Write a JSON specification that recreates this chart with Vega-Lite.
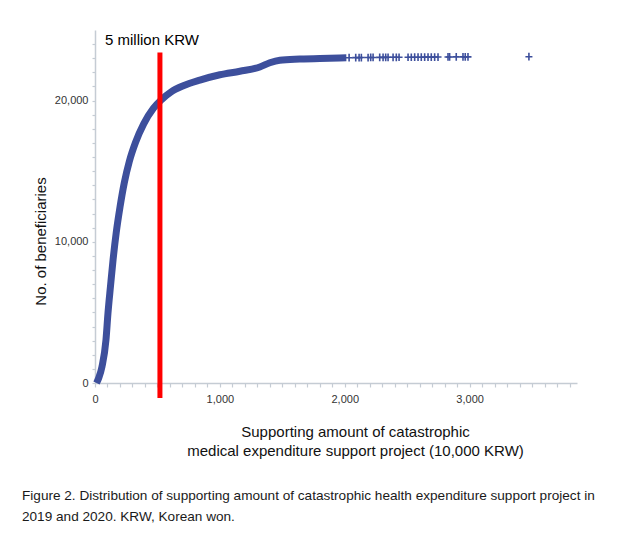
{
  "$schema": "https://vega.github.io/schema/vega-lite/v6.json",
  "width": 482,
  "height": 353,
  "autosize": {"type": "none"},
  "padding": {"left": 95, "top": 30, "right": 44, "bottom": 152},
  "background": "white",
  "config": {
    "view": {"stroke": null},
    "font": "Liberation Sans"
  },
  "title": {
    "text": ["Figure 2. Distribution of supporting amount of catastrophic health expenditure support project in", "2019 and 2020. KRW, Korean won."],
    "orient": "bottom",
    "anchor": "start",
    "frame": "group",
    "offset": 31,
    "dx": -73,
    "font": "Liberation Sans",
    "fontSize": 13.6,
    "fontWeight": "normal",
    "color": "#1a1a1a",
    "lineHeight": 21
  },
  "datasets": {
    "curve": [
      {"amount": 12, "count": 0},
      {"amount": 30, "count": 350},
      {"amount": 56, "count": 1160},
      {"amount": 88, "count": 3060},
      {"amount": 104, "count": 4960},
      {"amount": 124, "count": 6850},
      {"amount": 145, "count": 8750},
      {"amount": 170, "count": 10650},
      {"amount": 200, "count": 12450},
      {"amount": 235, "count": 14200},
      {"amount": 275, "count": 15700},
      {"amount": 325, "count": 17050},
      {"amount": 390, "count": 18350},
      {"amount": 467, "count": 19450},
      {"amount": 530, "count": 20050},
      {"amount": 610, "count": 20620},
      {"amount": 707, "count": 21050},
      {"amount": 840, "count": 21450},
      {"amount": 1000, "count": 21830},
      {"amount": 1160, "count": 22080},
      {"amount": 1320, "count": 22380},
      {"amount": 1400, "count": 22680},
      {"amount": 1480, "count": 22860},
      {"amount": 1640, "count": 22940},
      {"amount": 1800, "count": 22990},
      {"amount": 2013, "count": 23030}
    ],
    "tail": [
      {"amount": 2035, "count": 23040},
      {"amount": 2088, "count": 23045},
      {"amount": 2115, "count": 23045},
      {"amount": 2133, "count": 23050},
      {"amount": 2187, "count": 23050},
      {"amount": 2208, "count": 23055},
      {"amount": 2227, "count": 23055},
      {"amount": 2280, "count": 23060},
      {"amount": 2307, "count": 23060},
      {"amount": 2328, "count": 23060},
      {"amount": 2347, "count": 23065},
      {"amount": 2387, "count": 23065},
      {"amount": 2413, "count": 23065},
      {"amount": 2435, "count": 23070},
      {"amount": 2507, "count": 23070},
      {"amount": 2533, "count": 23070},
      {"amount": 2560, "count": 23075},
      {"amount": 2587, "count": 23075},
      {"amount": 2613, "count": 23075},
      {"amount": 2640, "count": 23080},
      {"amount": 2667, "count": 23080},
      {"amount": 2693, "count": 23080},
      {"amount": 2720, "count": 23085},
      {"amount": 2747, "count": 23085},
      {"amount": 2827, "count": 23090},
      {"amount": 2840, "count": 23090},
      {"amount": 2893, "count": 23095},
      {"amount": 2947, "count": 23095},
      {"amount": 2965, "count": 23100},
      {"amount": 2987, "count": 23100},
      {"amount": 3475, "count": 23110}
    ],
    "marker": [
      {"amount": 520, "from": -1070, "to": 23400, "label": "5 million KRW", "labelX": 80, "labelY": 24270}
    ]
  },
  "layer": [
    {
      "data": {"name": "curve"},
      "mark": {"type": "line", "color": "#3D4F9C", "strokeWidth": 7, "interpolate": "monotone", "strokeCap": "butt"},
      "encoding": {
        "x": {
          "field": "amount", "type": "quantitative",
          "scale": {"domain": [0, 3860], "nice": false, "zero": true},
          "axis": {
            "values": [0,100,200,300,400,500,600,700,800,900,1000,1100,1200,1300,1400,1500,1600,1700,1800,1900,2000,2100,2200,2300,2400,2500,2600,2700,2800,2900,3000,3100,3200,3300,3400,3500,3600,3700,3800],
            "tickCount": 100,
            "labelExpr": "datum.value % 1000 === 0 ? format(datum.value, ',') : ''",
            "grid": false,
            "domainColor": "#c5ccd4",
            "domainWidth": 1.5,
            "tickColor": "#c5ccd4",
            "tickSize": 4,
            "tickWidth": 1.2,
            "labelFont": "Liberation Sans",
            "labelFontSize": 11,
            "labelColor": "#333333",
            "labelPadding": 6,
            "labelFlush": false,
            "labelOverlap": false,
            "title": ["Supporting amount of catastrophic", "medical expenditure support project (10,000 KRW)"],
            "titleFont": "Liberation Sans",
            "titleFontSize": 15,
            "titleFontWeight": "normal",
            "titleColor": "#111111",
            "titleX": 260,
            "titleY": 41,
            "titleAlign": "center",
            "titleBaseline": "top",
            "titleLineHeight": 19
          }
        },
        "y": {
          "field": "count", "type": "quantitative",
          "scale": {"domain": [0, 25000], "nice": false},
          "axis": {
            "values": [0,1000,2000,3000,4000,5000,6000,7000,8000,9000,10000,11000,12000,13000,14000,15000,16000,17000,18000,19000,20000,21000,22000,23000,24000],
            "tickCount": 100,
            "labelExpr": "datum.value % 10000 === 0 ? format(datum.value, ',') : ''",
            "grid": false,
            "domainColor": "#c5ccd4",
            "domainWidth": 1.5,
            "tickColor": "#c5ccd4",
            "tickSize": 3,
            "tickWidth": 1.2,
            "labelFont": "Liberation Sans",
            "labelFontSize": 11,
            "labelColor": "#333333",
            "labelPadding": 4,
            "labelFlush": false,
            "labelOverlap": false,
            "title": "No. of beneficiaries",
            "titleFont": "Liberation Sans",
            "titleFontSize": 15,
            "titleFontWeight": "normal",
            "titleColor": "#111111",
            "titleX": -55,
            "titleY": 211,
            "titleAlign": "center",
            "titleBaseline": "middle"
          }
        }
      }
    },
    {
      "data": {"name": "tail"},
      "mark": {"type": "point", "shape": "M-1,0H1M0,-1.1V1.1", "size": 49, "filled": false, "stroke": "#3D4F9C", "strokeWidth": 1.6, "opacity": 1},
      "encoding": {
        "x": {"field": "amount", "type": "quantitative"},
        "y": {"field": "count", "type": "quantitative"}
      }
    },
    {
      "data": {"name": "marker"},
      "mark": {"type": "rule", "color": "#FF0000", "strokeWidth": 5},
      "encoding": {
        "x": {"field": "amount", "type": "quantitative"},
        "y": {"field": "from", "type": "quantitative"},
        "y2": {"field": "to"}
      }
    },
    {
      "data": {"name": "marker"},
      "mark": {"type": "text", "align": "left", "baseline": "middle", "font": "Liberation Sans", "fontSize": 15, "color": "#000000"},
      "encoding": {
        "x": {"field": "labelX", "type": "quantitative"},
        "y": {"field": "labelY", "type": "quantitative"},
        "text": {"field": "label"}
      }
    }
  ]
}
